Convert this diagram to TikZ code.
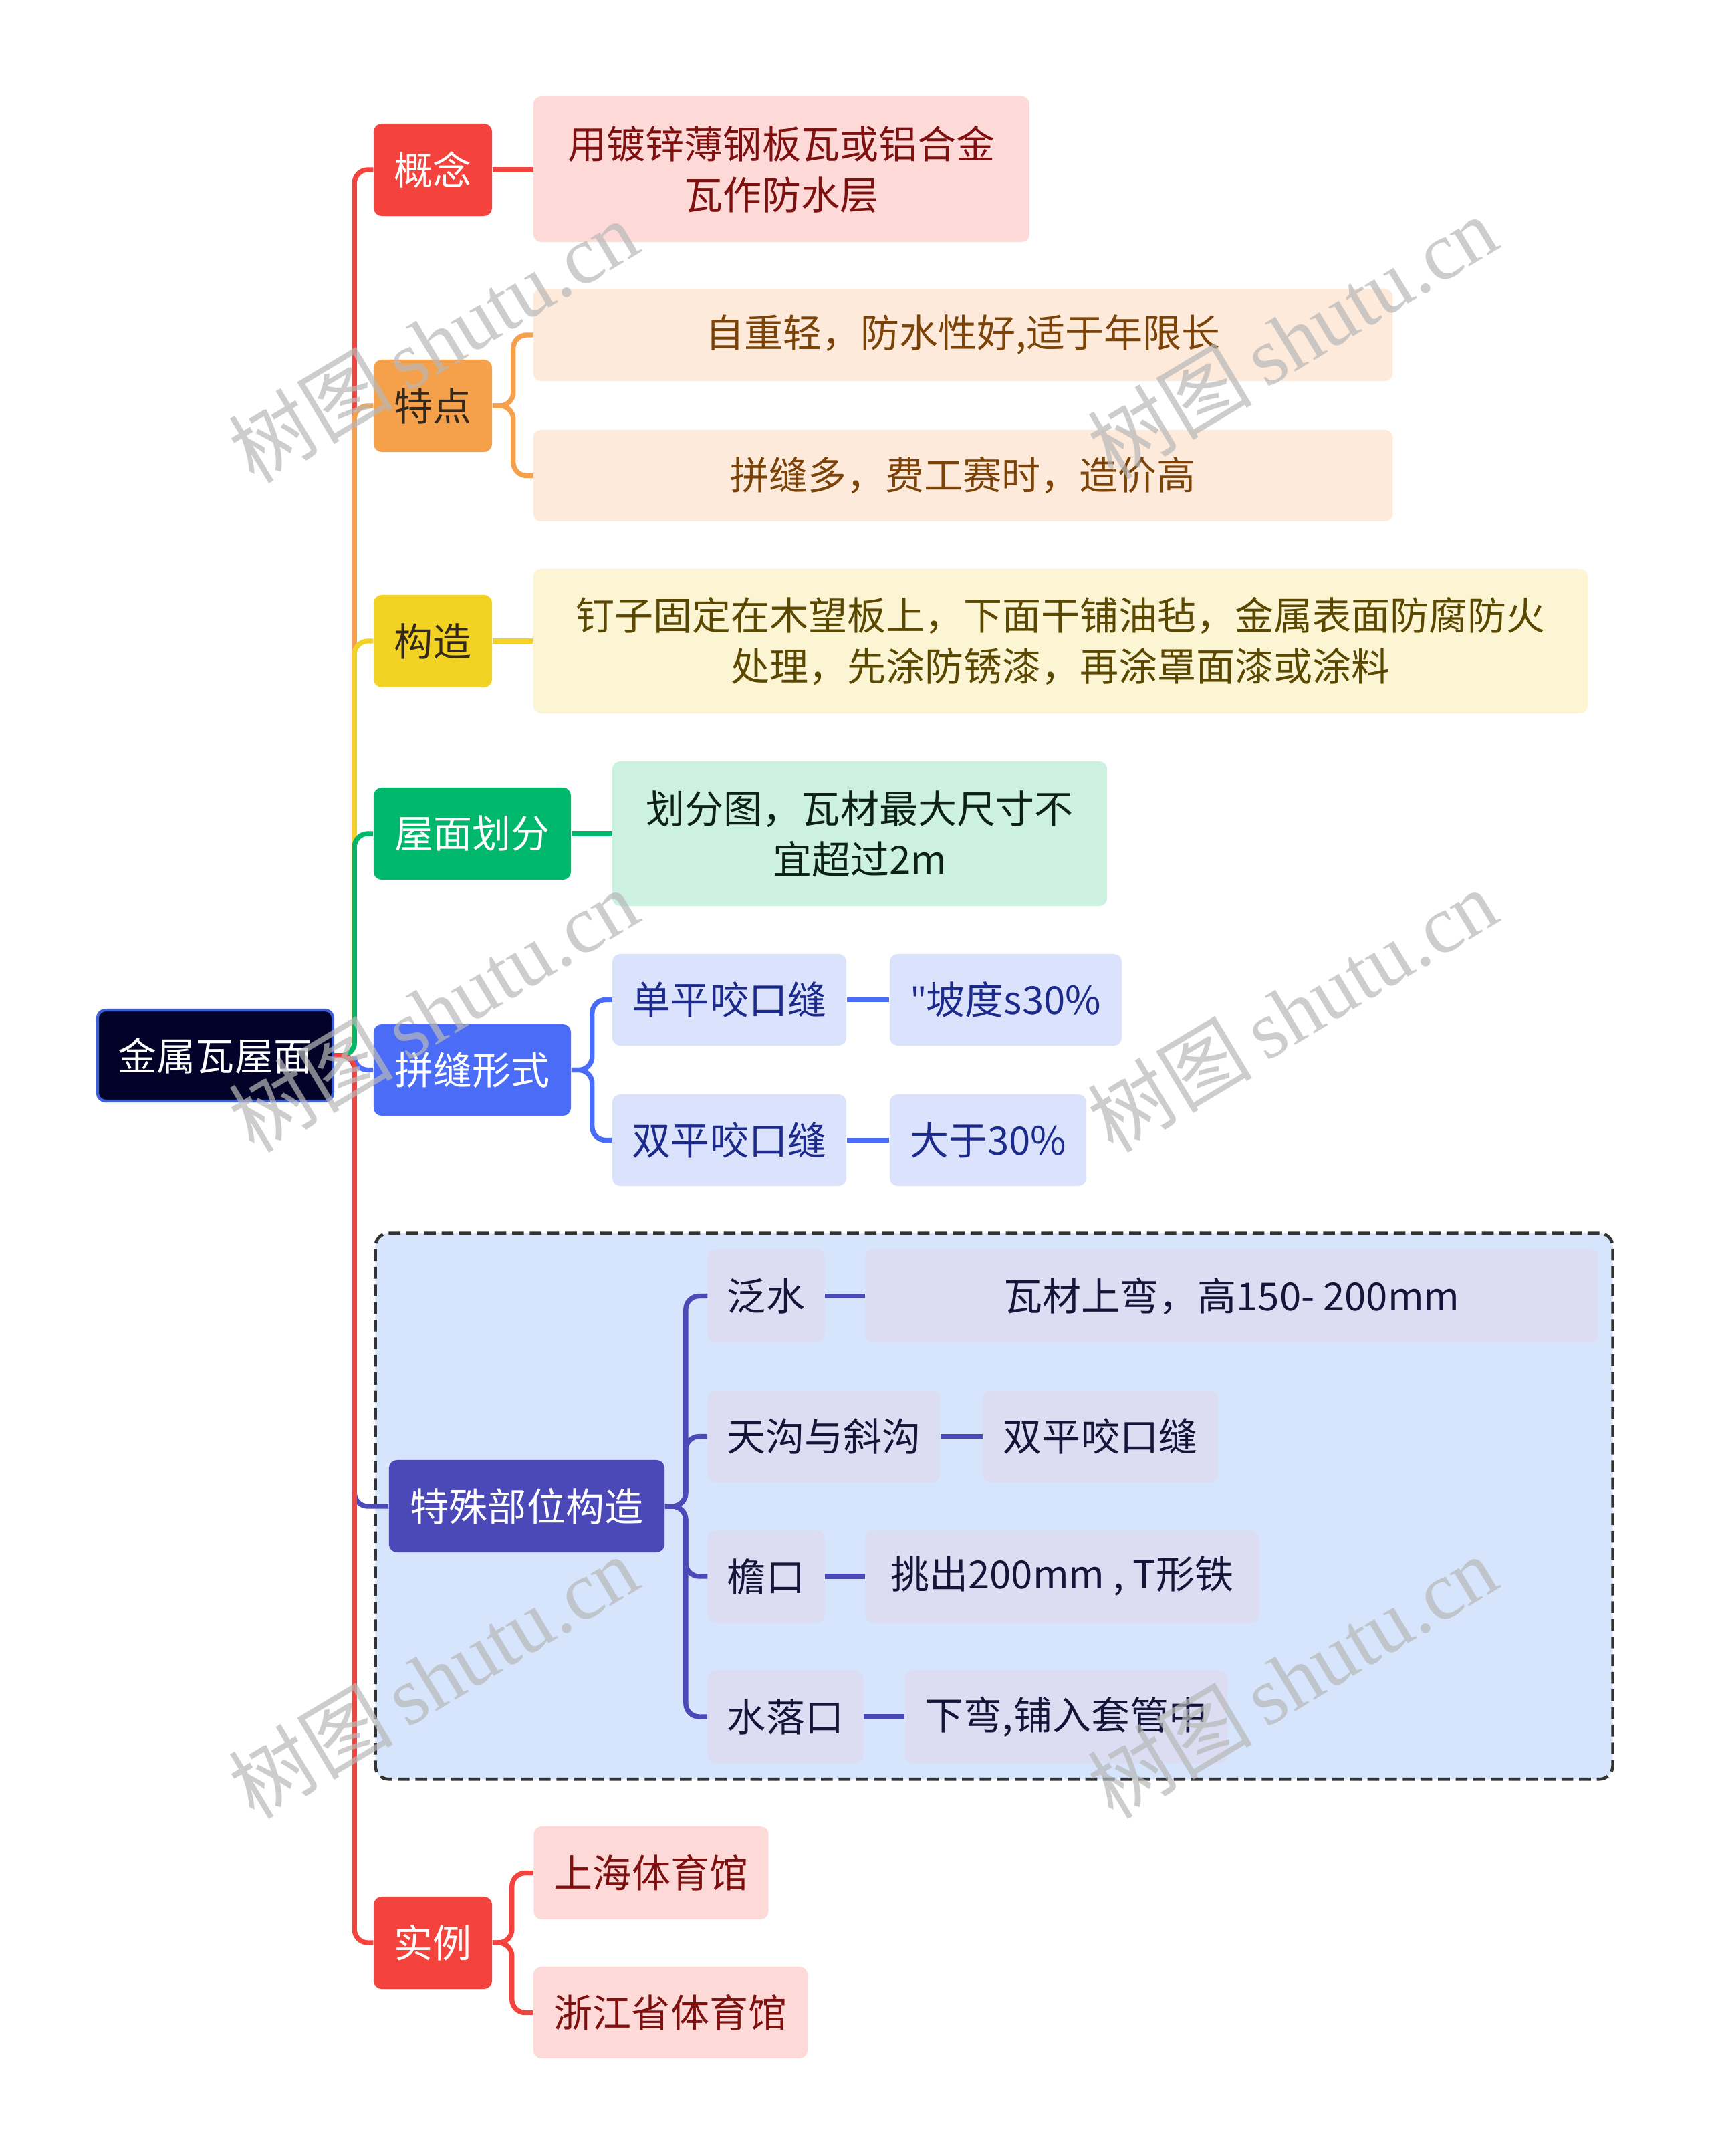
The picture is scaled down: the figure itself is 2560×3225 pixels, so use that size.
\documentclass[tikz,border=0pt]{standalone}
\usepackage{fontspec}
\setmainfont{Noto Sans CJK SC}
\newfontfamily\wmfont{Liberation Serif}
\newfontfamily\latfont{Noto Sans}
\definecolor{rootc}{HTML}{03032A}
\definecolor{rootb}{HTML}{3E5FD6}
\definecolor{redc}{HTML}{F4433C}
\definecolor{redl}{HTML}{FDDAD8}
\definecolor{redt}{HTML}{7E1010}
\definecolor{orac}{HTML}{F5A04B}
\definecolor{oral}{HTML}{FDEADB}
\definecolor{orat}{HTML}{7B4307}
\definecolor{yelc}{HTML}{F2D324}
\definecolor{yell}{HTML}{FCF5D3}
\definecolor{yelt}{HTML}{5A4700}
\definecolor{grnc}{HTML}{00B86B}
\definecolor{grnl}{HTML}{CCF1E1}
\definecolor{grnt}{HTML}{0D2119}
\definecolor{bluc}{HTML}{4A6CF7}
\definecolor{blul}{HTML}{DBE2FC}
\definecolor{blut}{HTML}{1C2A8C}
\definecolor{indc}{HTML}{4B49B8}
\definecolor{indl}{HTML}{DCDCF2}
\definecolor{indt}{HTML}{15153A}
\definecolor{grpbg}{HTML}{D6E4FC}
\definecolor{darkt}{HTML}{33281A}
\tikzset{
  box/.style={rounded corners=0.12cm, inner sep=0pt, align=center,
    font=\fontsize{16.5pt}{21.6pt}\selectfont},
  link/.style={line width=2.1pt, rounded corners=0.2cm},
  wmark/.style={rotate=31, text=black!28, opacity=0.7, inner sep=0pt,
    font=\fontsize{35pt}{35pt}\selectfont}
}
\begin{document}
\begin{tikzpicture}[x=0.01cm,y=-0.01cm]
\useasboundingbox (0,0) rectangle (2560,3225);
\fill[white] (0,0) rectangle (2560,3225);

% group box
\node[draw=black!80, fill=grpbg, line width=1.3pt, dash pattern=on 5pt off 2.5pt,
  rounded corners=0.2cm, minimum width=18.5cm, minimum height=8.16cm] (grp) at (1487,2253) {};

% root
\node[box, fill=rootc, draw=rootb, line width=1.2pt, text=white,
  minimum width=3.52cm, minimum height=1.36cm] (root) at (322,1579) {金属瓦屋面};

% level 1
\node[box, fill=redc, text=white, minimum width=1.77cm, minimum height=1.38cm] (gn) at (647.5,254) {概念};
\node[box, fill=orac, text=darkt, minimum width=1.77cm, minimum height=1.38cm] (td) at (647.5,607) {特点};
\node[box, fill=yelc, text=darkt, minimum width=1.77cm, minimum height=1.38cm] (gz) at (647.5,959) {构造};
\node[box, fill=grnc, text=white, minimum width=2.95cm, minimum height=1.38cm] (hf) at (706.5,1247) {屋面划分};
\node[box, fill=bluc, text=white, minimum width=2.95cm, minimum height=1.37cm] (pf) at (706.5,1600.5) {拼缝形式};
\node[box, fill=indc, text=white, minimum width=4.12cm, minimum height=1.38cm] (ts) at (788,2253) {特殊部位构造};
\node[box, fill=redc, text=white, minimum width=1.77cm, minimum height=1.38cm] (sl) at (647.5,2906) {实例};

% level 2
\node[box, fill=redl, text=redt, minimum width=7.42cm, minimum height=2.18cm] (gn1) at (1169,253) {用镀锌薄钢板瓦或铝合金\\瓦作防水层};
\node[box, fill=oral, text=orat, minimum width=12.85cm, minimum height=1.38cm] (td1) at (1440.5,501) {自重轻，防水性好,适于年限长};
\node[box, fill=oral, text=orat, minimum width=12.85cm, minimum height=1.37cm] (td2) at (1440.5,711.5) {拼缝多，费工赛时，造价高};
\node[box, fill=yell, text=yelt, minimum width=15.77cm, minimum height=2.16cm] (gz1) at (1586.5,959) {钉子固定在木望板上，下面干铺油毡，金属表面防腐防火\\处理，先涂防锈漆，再涂罩面漆或涂料};
\node[box, fill=grnl, text=grnt, minimum width=7.40cm, minimum height=2.16cm] (hf1) at (1286,1247) {划分图，瓦材最大尺寸不\\宜超过2m};
\node[box, fill=blul, text=blut, minimum width=3.50cm, minimum height=1.37cm] (pf1) at (1091,1495.5) {单平咬口缝};
\node[box, fill=blul, text=blut, minimum width=3.47cm, minimum height=1.37cm] (pf1a) at (1504.5,1495.5) {{\latfont\symbol{34}}坡度s30\%};
\node[box, fill=blul, text=blut, minimum width=3.50cm, minimum height=1.37cm] (pf2) at (1091,1705.5) {双平咬口缝};
\node[box, fill=blul, text=blut, minimum width=2.94cm, minimum height=1.37cm] (pf2a) at (1478,1705.5) {大于30\%};
\node[box, fill=indl, text=indt, minimum width=1.74cm, minimum height=1.39cm] (ts1) at (1146,1938.5) {泛水};
\node[box, fill=indl, text=indt, minimum width=10.95cm, minimum height=1.39cm] (ts1a) at (1842.5,1938.5) {瓦材上弯，高150- 200mm};
\node[box, fill=indl, text=indt, minimum width=3.47cm, minimum height=1.38cm] (ts2) at (1232.5,2148.6) {天沟与斜沟};
\node[box, fill=indl, text=indt, minimum width=3.51cm, minimum height=1.38cm] (ts2a) at (1646,2148.6) {双平咬口缝};
\node[box, fill=indl, text=indt, minimum width=1.74cm, minimum height=1.38cm] (ts3) at (1146,2358) {檐口};
\node[box, fill=indl, text=indt, minimum width=5.88cm, minimum height=1.38cm] (ts3a) at (1589,2358) {挑出200mm , T形铁};
\node[box, fill=indl, text=indt, minimum width=2.32cm, minimum height=1.38cm] (ts4) at (1175,2568) {水落口};
\node[box, fill=indl, text=indt, minimum width=4.82cm, minimum height=1.38cm] (ts4a) at (1595,2568) {下弯,铺入套管中};
\node[box, fill=redl, text=redt, minimum width=3.51cm, minimum height=1.39cm] (sl1) at (974,2801.5) {上海体育馆};
\node[box, fill=redl, text=redt, minimum width=4.10cm, minimum height=1.37cm] (sl2) at (1003,3010.5) {浙江省体育馆};

% trunk connectors
\draw[link, redc] (root.east) -- ++(30,0) |- (gn.west);
\draw[link, orac] (root.east) -- ++(30,0) |- (td.west);
\draw[link, yelc] (root.east) -- ++(30,0) |- (gz.west);
\draw[link, grnc] (root.east) -- ++(30,0) |- (hf.west);
\draw[link, bluc] (root.east) -- ++(30,0) |- (pf.west);
\draw[link, indc] (root.east) -- ++(30,0) |- (ts.west);
\draw[link, redc] (root.east) -- ++(30,0) |- (sl.west);

% branch connectors
\draw[link, redc] (gn.east) -- (gn.east -| gn1.west);
\draw[link, orac] (td.east) -- ++(31,0) |- (td1.west);
\draw[link, orac] (td.east) -- ++(31,0) |- (td2.west);
\draw[link, yelc] (gz.east) -- (gz1.west);
\draw[link, grnc] (hf.east) -- (hf1.west);
\draw[link, bluc] (pf.east) -- ++(31,0) |- (pf1.west);
\draw[link, bluc] (pf.east) -- ++(31,0) |- (pf2.west);
\draw[link, bluc] (pf1.east) -- (pf1a.west);
\draw[link, bluc] (pf2.east) -- (pf2a.west);
\draw[link, indc] (ts.east) -- ++(31,0) |- (ts1.west);
\draw[link, indc] (ts.east) -- ++(31,0) |- (ts2.west);
\draw[link, indc] (ts.east) -- ++(31,0) |- (ts3.west);
\draw[link, indc] (ts.east) -- ++(31,0) |- (ts4.west);
\draw[link, indc] (ts1.east) -- (ts1a.west);
\draw[link, indc] (ts2.east) -- (ts2a.west);
\draw[link, indc] (ts3.east) -- (ts3a.west);
\draw[link, indc] (ts4.east) -- (ts4a.west);
\draw[link, redc] (sl.east) -- ++(29,0) |- (sl1.west);
\draw[link, redc] (sl.east) -- ++(29,0) |- (sl2.west);

% watermarks
\node[wmark] (w1) at (648,510) {树图\,{\wmfont shutu.cn}};
\node[wmark] (w2) at (1933,504) {树图\,{\wmfont shutu.cn}};
\node[wmark] (w3) at (648,1511) {树图\,{\wmfont shutu.cn}};
\node[wmark] (w4) at (1933,1511) {树图\,{\wmfont shutu.cn}};
\node[wmark] (w5) at (648,2508) {树图\,{\wmfont shutu.cn}};
\node[wmark] (w6) at (1933,2508) {树图\,{\wmfont shutu.cn}};
\end{tikzpicture}
\end{document}
